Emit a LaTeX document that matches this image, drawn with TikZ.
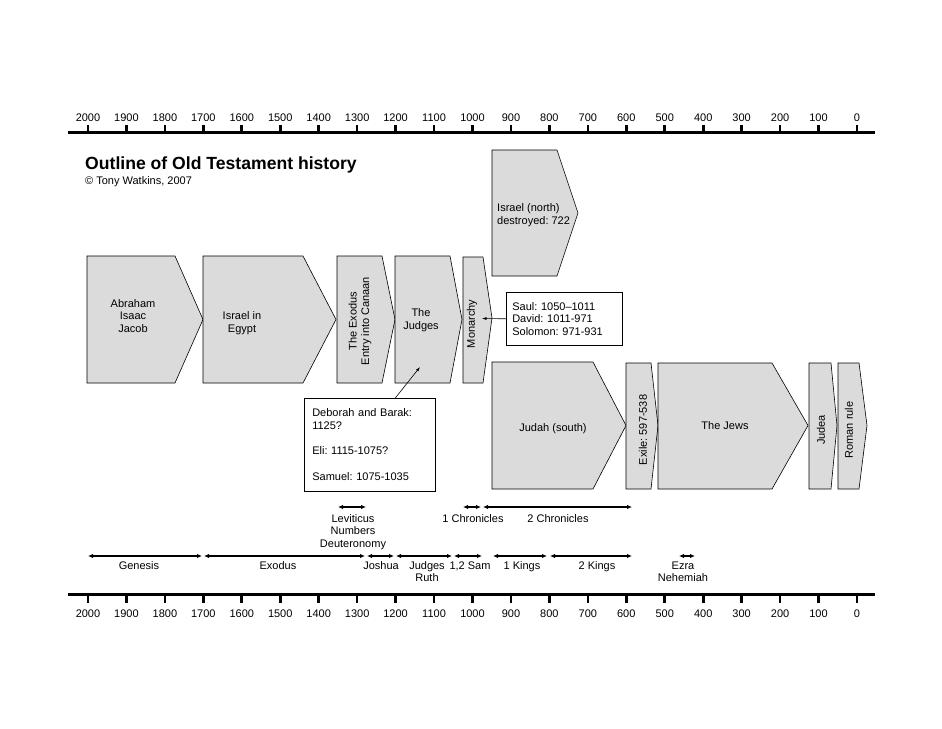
\documentclass[tikz,border=0pt]{standalone}
\usepackage{fontspec}
\setmainfont{Liberation Sans}
\usetikzlibrary{arrows.meta}
\frenchspacing

\definecolor{phasefill}{gray}{0.86}

\begin{document}
\begin{tikzpicture}[x=1pt, y=-1pt,
    every node/.style={font=\fontsize{11}{12.5}\selectfont, inner sep=0pt, align=center},
    phase/.style={draw, fill=phasefill, line width=0.6pt, line join=miter},
    infobox/.style={draw, fill=white, line width=0.6pt, align=left},
    axis/.style={line width=3pt},
    tick/.style={line width=2.6pt},
    span/.style={line width=1.6pt, {Latex[length=5pt,width=4.5pt]}-{Latex[length=5pt,width=4.5pt]}},
    pointer/.style={line width=0.6pt, -{Latex[length=4.5pt,width=3pt]}},
    vert/.style={rotate=90}]

    \useasboundingbox (0,0) rectangle (942,728);

    % Time axes
    \draw[axis] (68,132.5) -- (875,132.5);
    \draw[axis] (68,594.5) -- (875,594.5);
    \foreach \yr in {2000,1900,...,0} {
        \draw[tick] ({857-0.3845*\yr},125) -- ({857-0.3845*\yr},132);
        \draw[tick] ({857-0.3845*\yr},595) -- ({857-0.3845*\yr},603);
        \node[anchor=base] (top\yr) at ({857-0.3845*\yr},121) {\yr};
        \node[anchor=base] (bot\yr) at ({857-0.3845*\yr},617) {\yr};
    }

    % Title
    \node[anchor=base west, font=\fontsize{17.6}{20}\selectfont\bfseries] (title) at (85,169) {Outline of Old Testament history};
    \node[anchor=base west] (author) at (85,184) {\textcopyright{} Tony Watkins, 2007};

    % Phases
    \draw[phase] (87,256) -- (175,256) -- (203,319.5) -- (175,383) -- (87,383) -- cycle;
    \draw[phase] (203,256) -- (303,256) -- (336,319.5) -- (303,383) -- (203,383) -- cycle;
    \draw[phase] (337,256) -- (382,256) -- (395,319.5) -- (382,383) -- (337,383) -- cycle;
    \draw[phase] (395,256) -- (450,256) -- (462,319.5) -- (450,383) -- (395,383) -- cycle;
    \draw[phase] (463,257) -- (483,257) -- (492,318) -- (483,383) -- (463,383) -- cycle;
    \draw[phase] (492,150) -- (557,150) -- (578,213) -- (557,276) -- (492,276) -- cycle;
    \draw[phase] (492,362) -- (593,362) -- (626,425.5) -- (593,489) -- (492,489) -- cycle;
    \draw[phase] (626,363) -- (651,363) -- (658,425.5) -- (651,489) -- (626,489) -- cycle;
    \draw[phase] (658,363) -- (772,363) -- (808,425.5) -- (772,489) -- (658,489) -- cycle;
    \draw[phase] (809,363) -- (831,363) -- (837,425.5) -- (831,489) -- (809,489) -- cycle;
    \draw[phase] (838,363) -- (859,363) -- (867,425.5) -- (859,489) -- (838,489) -- cycle;

    \node (abraham) at (133,316) {Abraham\\Isaac\\Jacob};
    \node (egypt) at (242,323) {Israel in\\Egypt};
    \node[vert] (exodus) at (360,321) {The Exodus\\Entry into Canaan};
    \node (judges) at (421,320) {The\\Judges};
    \node[vert] (monarchy) at (472,324) {Monarchy};
    \node[anchor=west, align=left] (north) at (497,215) {Israel (north)\\destroyed: 722};
    \node (judah) at (553,429) {Judah (south)};
    \node[vert] (exile) at (643,430) {Exile: 597-538};
    \node (jews) at (725,426) {The Jews};
    \node[vert] (judea) at (821,430) {Judea};
    \node[vert] (roman) at (849,430) {Roman rule};

    % Notes
    \node[infobox, anchor=north west, text width=104pt, inner xsep=6pt, minimum height=53pt] (kings) at (506,292)
        {Saul: 1050--1011\\David: 1011-971\\Solomon: 971-931};
    \node[infobox, anchor=north west, text width=115pt, inner xsep=8pt, minimum height=93pt] (deborah) at (304,398)
        {Deborah and Barak:\\1125?\\[13pt]Eli: 1115-1075?\\[13pt]Samuel: 1075-1035};

    \coordinate (monarchyin) at (482,318.5);
    \coordinate (judgesin) at (420,367);
    \draw[pointer] (kings.west) -- (monarchyin);
    \draw[pointer] ([xshift=25.5pt]deborah.north) -- (judgesin);

    % Books
    \draw[span] (338,507) -- (366,507);
    \draw[span] (463,507) -- (481,507);
    \draw[span] (483,507) -- (632,507);
    \draw[span] (88,556) -- (202,556);
    \draw[span] (204,556) -- (365,556);
    \draw[span] (367,556) -- (394,556);
    \draw[span] (396,556) -- (452,556);
    \draw[span] (454,556) -- (482,556);
    \draw[span] (493,556) -- (547,556);
    \draw[span] (550,556) -- (632,556);
    \draw[span] (679,556) -- (695,556);

    \node[anchor=base] (leviticus) at (353,547) {Leviticus\\Numbers\\Deuteronomy};
    \node[anchor=base] (chron1) at (473,522) {1 Chronicles};
    \node[anchor=base] (chron2) at (558,522) {2 Chronicles};
    \node[anchor=base] (genesis) at (139,569) {Genesis};
    \node[anchor=base] (exodusbk) at (278,569) {Exodus};
    \node[anchor=base] (joshua) at (381,569) {Joshua};
    \node[anchor=base] (judgesbk) at (427,581.5) {Judges\\Ruth};
    \node[anchor=base] (samuel) at (470,569) {1,2 Sam};
    \node[anchor=base] (kings1) at (522,569) {1 Kings};
    \node[anchor=base] (kings2) at (597,569) {2 Kings};
    \node[anchor=base] (ezra) at (683,581.5) {Ezra\\Nehemiah};
\end{tikzpicture}
\end{document}
